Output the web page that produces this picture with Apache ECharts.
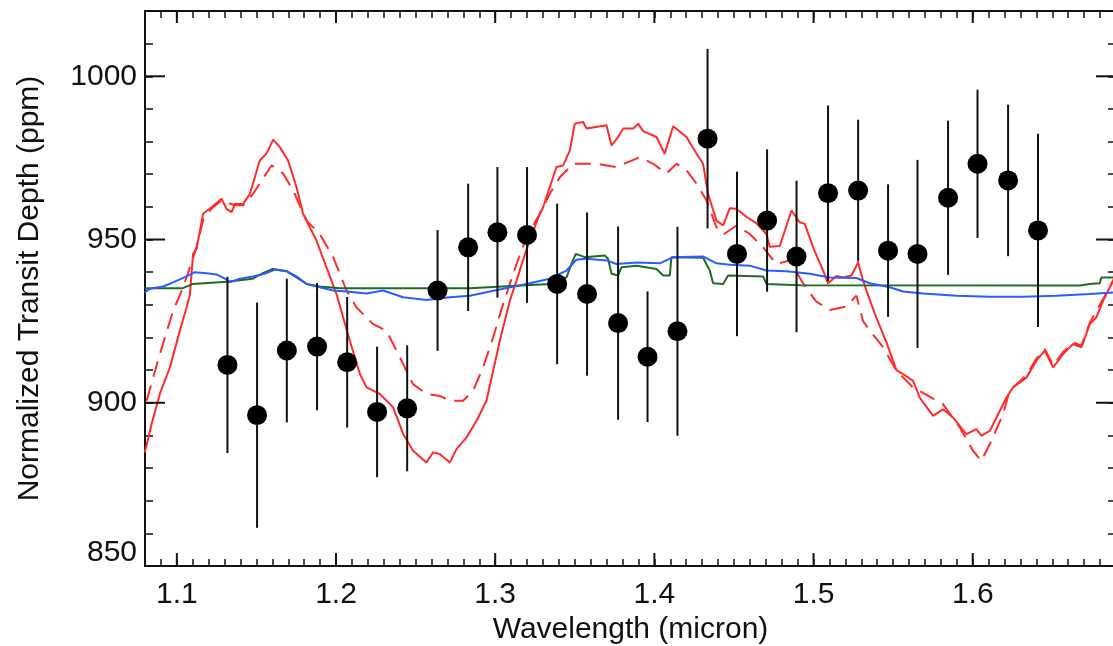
<!DOCTYPE html>
<html>
<head>
<meta charset="utf-8">
<script src="https://cdn.jsdelivr.net/npm/echarts@6/dist/echarts.min.js"></script>
<style>
html,body{margin:0;padding:0;background:#fff;}
#chart{width:1113px;height:646px;}
</style>
</head>
<body>
<div id="chart"></div>
<script>
// ---------- data ----------
var xMajorTicks = [1.1, 1.2, 1.3, 1.4, 1.5, 1.6];
var yMajorTicks = [850, 900, 950, 1000];

var obsWave = [1.1318,1.1504,1.1691,1.1881,1.2070,1.2258,1.2447,1.2638,1.2830,1.3014,1.3200,1.3389,1.3577,1.3772,1.3957,1.4145,1.4334,1.4519,1.4708,1.4893,1.5091,1.5280,1.5468,1.5653,1.5845,1.6030,1.6222,1.6410];
var obsDepth = [911.6,896.2,916.0,917.2,912.4,897.2,898.3,934.4,947.6,952.2,951.4,936.4,933.3,924.4,914.1,921.9,980.9,945.6,955.8,944.8,964.2,965.0,946.6,945.6,962.8,973.2,968.1,952.8];
var obsErr = [27.0,34.5,22.0,19.5,20.0,20.0,19.3,18.5,19.5,20.0,20.8,24.6,25.0,29.6,20.0,32.0,27.5,25.2,21.8,23.2,26.9,21.7,20.3,28.8,23.6,22.7,23.2,29.6];

var redSolid = [[1.0799,884.8],[1.0841,893.4],[1.0893,902.7],[1.0956,910.8],[1.1019,922.1],[1.1061,929.2],[1.1082,933.0],[1.1102,945.6],[1.1124,947.2],[1.1165,957.9],[1.1218,959.9],[1.1281,962.5],[1.1312,959.4],[1.1344,958.4],[1.1364,960.9],[1.1416,960.9],[1.1459,964.0],[1.1521,974.2],[1.1563,976.3],[1.1605,980.6],[1.1647,978.3],[1.1699,974.2],[1.1752,966.0],[1.1793,957.9],[1.1877,949.7],[1.1940,941.5],[1.2003,933.3],[1.2087,919.0],[1.2150,908.8],[1.2192,904.7],[1.2275,902.7],[1.2359,898.6],[1.2422,890.4],[1.2484,885.3],[1.2568,881.7],[1.2610,884.8],[1.2652,884.3],[1.2715,881.7],[1.2757,885.8],[1.2820,889.4],[1.2883,894.5],[1.2945,900.6],[1.2987,909.8],[1.3029,919.0],[1.3092,931.3],[1.3134,937.4],[1.3197,947.0],[1.3280,957.9],[1.3301,959.9],[1.3385,972.2],[1.3427,972.7],[1.3469,977.3],[1.3500,985.5],[1.3552,986.0],[1.3574,984.0],[1.3699,985.0],[1.3731,978.8],[1.3772,981.4],[1.3804,984.0],[1.3867,984.0],[1.3898,985.5],[1.3929,983.2],[1.4013,981.4],[1.4065,976.3],[1.4118,984.7],[1.4202,981.4],[1.4265,976.3],[1.4306,973.2],[1.4337,964.0],[1.4390,955.8],[1.4432,954.3],[1.4474,959.6],[1.4516,959.4],[1.4579,956.9],[1.4641,955.0],[1.4704,951.7],[1.4725,947.8],[1.4788,948.0],[1.4861,958.9],[1.4913,955.3],[1.4945,954.8],[1.4997,947.6],[1.5060,940.5],[1.5091,936.6],[1.5144,938.8],[1.5185,938.4],[1.5238,939.0],[1.5280,943.0],[1.5311,937.4],[1.5353,931.5],[1.5395,926.0],[1.5458,918.5],[1.5521,910.0],[1.5562,908.8],[1.5625,906.7],[1.5667,901.6],[1.5751,896.0],[1.5813,898.0],[1.5876,895.5],[1.5918,892.9],[1.5960,890.4],[1.6023,891.9],[1.6054,889.9],[1.6107,891.4],[1.6149,895.5],[1.6212,901.6],[1.6253,904.7],[1.6337,907.7],[1.6400,912.9],[1.6452,916.0],[1.6505,910.8],[1.6567,914.9],[1.6630,918.0],[1.6683,917.0],[1.6735,924.1],[1.6777,926.2],[1.6819,931.3],[1.6861,935.4],[1.6900,939.0]];

var redDashed = [[1.0810,900.6],[1.0893,914.9],[1.0977,928.2],[1.1040,935.4],[1.1082,941.5],[1.1124,947.6],[1.1165,956.0],[1.1218,959.5],[1.1281,962.0],[1.1364,960.5],[1.1416,960.5],[1.1479,964.0],[1.1595,972.7],[1.1668,970.2],[1.1731,965.0],[1.1815,955.8],[1.1898,951.7],[1.1982,944.6],[1.2066,934.4],[1.2129,929.2],[1.2233,924.1],[1.2317,922.1],[1.2401,913.9],[1.2484,905.7],[1.2568,902.7],[1.2652,902.1],[1.2715,900.6],[1.2798,900.6],[1.2861,903.7],[1.2924,910.8],[1.2987,920.0],[1.3050,930.3],[1.3092,936.4],[1.3134,942.5],[1.3197,950.7],[1.3280,957.9],[1.3343,964.0],[1.3406,969.1],[1.3490,973.2],[1.3637,973.2],[1.3762,972.2],[1.3908,975.2],[1.3992,973.2],[1.4076,970.2],[1.4139,973.2],[1.4202,971.2],[1.4265,967.1],[1.4327,962.0],[1.4390,953.8],[1.4432,951.5],[1.4516,954.3],[1.4599,951.7],[1.4683,947.6],[1.4767,942.5],[1.4851,943.6],[1.4934,936.6],[1.4997,932.3],[1.5018,931.0],[1.5102,928.4],[1.5206,929.5],[1.5269,932.8],[1.5311,925.0],[1.5353,922.1],[1.5437,917.0],[1.5521,909.8],[1.5625,904.7],[1.5813,899.6],[1.5918,892.5],[1.6002,885.3],[1.6054,882.2],[1.6117,888.3],[1.6190,896.5],[1.6232,903.7],[1.6337,908.5],[1.6400,913.5],[1.6452,916.5],[1.6505,911.5],[1.6567,915.5],[1.6630,918.5],[1.6683,917.5],[1.6735,924.5],[1.6819,931.8],[1.6900,939.0]];

var blueModel = [[1.0799,933.8],[1.0830,934.9],[1.0914,935.6],[1.0977,936.9],[1.1061,938.7],[1.1113,940.0],[1.1187,939.7],[1.1249,939.3],[1.1302,938.0],[1.1333,936.9],[1.1396,938.0],[1.1479,938.7],[1.1563,939.7],[1.1616,940.8],[1.1689,940.3],[1.1752,938.7],[1.1815,936.4],[1.1898,935.4],[1.1982,934.4],[1.2066,934.1],[1.2192,933.5],[1.2296,934.4],[1.2421,932.3],[1.2568,931.5],[1.2715,932.3],[1.2840,932.8],[1.3050,934.9],[1.3217,936.6],[1.3343,938.0],[1.3448,940.5],[1.3510,943.8],[1.3574,944.1],[1.3699,943.6],[1.3762,942.5],[1.3888,943.0],[1.4034,942.7],[1.4118,944.6],[1.4306,944.8],[1.4390,942.7],[1.4474,942.3],[1.4599,942.0],[1.4704,940.5],[1.4830,940.3],[1.4976,939.5],[1.5101,938.4],[1.5269,938.2],[1.5353,936.6],[1.5479,935.4],[1.5562,934.1],[1.5688,933.5],[1.5898,932.8],[1.6108,932.5],[1.6316,932.5],[1.6526,932.8],[1.6735,933.3],[1.6900,933.8]];

var greenModel = [[1.0799,935.1],[1.1038,935.1],[1.1101,936.4],[1.1312,937.1],[1.1477,938.0],[1.1540,939.7],[1.1603,941.0],[1.1689,940.3],[1.1752,938.4],[1.1815,936.4],[1.1898,935.6],[1.2024,935.1],[1.2840,935.1],[1.3343,936.4],[1.3448,938.4],[1.3479,942.5],[1.3506,945.6],[1.3563,944.6],[1.3688,945.1],[1.3709,944.1],[1.3731,939.5],[1.3772,939.0],[1.3793,941.5],[1.3888,942.0],[1.4013,941.0],[1.4055,939.0],[1.4097,939.0],[1.4107,944.6],[1.4306,944.4],[1.4348,940.5],[1.4369,936.6],[1.4432,936.4],[1.4463,939.0],[1.4683,938.7],[1.4704,936.4],[1.4913,936.0],[1.6672,935.9],[1.6735,936.4],[1.6798,936.6],[1.6808,938.4],[1.6900,938.4]];

// ---------- chart ----------
var X_MIN = 1.08, X_MAX = 1.69, Y_MIN = 850, Y_MAX = 1020;
var INK = '#111111';
var FONT = 'Liberation Sans';

function near(v, step) { return Math.abs(v / step - Math.round(v / step)) < 1e-6; }

var chart = echarts.init(document.getElementById('chart'), null, {renderer: 'canvas'});

var baseTick = {show: true, inside: true, length: 7, lineStyle: {color: INK, width: 1.5}};
var baseLine = {show: true, onZero: false, lineStyle: {color: INK, width: 2}};

var obsData = obsWave.map(function (w, i) { return [w, obsDepth[i], obsErr[i]]; });

chart.setOption({
  animation: false,
  backgroundColor: '#ffffff',
  grid: {left: 145, top: 11, right: -3, bottom: 80, containLabel: false, outerBoundsMode: 'none'},
  xAxis: [{
    type: 'value', min: X_MIN, max: X_MAX, interval: 0.01, position: 'bottom',
    axisLine: baseLine, axisTick: baseTick, splitLine: {show: false},
    axisLabel: {
      show: true, margin: 14, color: INK, fontFamily: FONT, fontSize: 30,
      showMinLabel: true, showMaxLabel: true, hideOverlap: false,
      formatter: function (v) { return near(v, 0.1) ? v.toFixed(1) : ''; }
    },
    name: 'Wavelength (micron)', nameLocation: 'middle', nameGap: 46,
    nameTextStyle: {color: INK, fontFamily: FONT, fontSize: 30}
  }, {
    type: 'value', min: X_MIN, max: X_MAX, interval: 0.01, position: 'top',
    axisLine: baseLine, axisTick: baseTick, splitLine: {show: false}, axisLabel: {show: false}
  }],
  yAxis: [{
    type: 'value', min: Y_MIN, max: Y_MAX, interval: 10, position: 'left',
    axisLine: baseLine, axisTick: {show: true, inside: true, length: 8, lineStyle: {color: INK, width: 1.5}},
    splitLine: {show: false},
    axisLabel: {
      show: true, margin: 8, color: INK, fontFamily: FONT, fontSize: 30,
      formatter: function (v) {
        if (!near(v, 50)) { return ''; }
        var s = String(Math.round(v));
        return (Math.abs(v - Y_MIN) < 1e-6) ? '{up|' + s + '}' : s;
      },
      rich: {up: {color: INK, fontFamily: FONT, fontSize: 30, padding: [0, 0, 26, 0]}}
    },
    name: 'Normalized Transit Depth (ppm)', nameLocation: 'middle', nameGap: 100,
    nameTextStyle: {color: INK, fontFamily: FONT, fontSize: 30}
  }, {
    type: 'value', min: Y_MIN, max: Y_MAX, interval: 10, position: 'right',
    axisLine: baseLine, axisTick: {show: true, inside: true, length: 8, lineStyle: {color: INK, width: 1.5}},
    splitLine: {show: false}, axisLabel: {show: false}
  }],
  series: [
    {
      type: 'line', data: redSolid, showSymbol: false, symbol: 'none', clip: true,
      lineStyle: {color: '#ff2a2a', width: 2}, z: 2
    },
    {
      type: 'line', data: redDashed, showSymbol: false, symbol: 'none', clip: true,
      lineStyle: {color: '#ff2a2a', width: 2, type: [16, 9]}, z: 2
    },
    {
      type: 'line', data: greenModel, showSymbol: false, symbol: 'none', clip: true,
      lineStyle: {color: '#216b21', width: 2}, z: 3
    },
    {
      type: 'line', data: blueModel, showSymbol: false, symbol: 'none', clip: true,
      lineStyle: {color: '#2a5cff', width: 2}, z: 3
    },
    {
      // error bars
      type: 'custom', data: obsData, z: 4, silent: true,
      renderItem: function (params, api) {
        var x = api.value(0), y = api.value(1), e = api.value(2);
        var lo = api.coord([x, y - e]), hi = api.coord([x, y + e]);
        return {type: 'line', shape: {x1: lo[0], y1: lo[1], x2: hi[0], y2: hi[1]},
          style: {stroke: INK, lineWidth: 2}};
      }
    },
    {
      type: 'scatter', data: obsData, symbol: 'circle', symbolSize: 20, z: 5,
      itemStyle: {color: '#000000', opacity: 1}
    },
    {
      // major ticks on x (bottom and top)
      type: 'custom', data: xMajorTicks.map(function (v) { return [v, Y_MIN]; }), z: 6, silent: true, clip: false,
      renderItem: function (params, api) {
        var v = api.value(0);
        var b = api.coord([v, Y_MIN]), t = api.coord([v, Y_MAX]);
        return {type: 'group', children: [
          {type: 'line', shape: {x1: b[0], y1: b[1], x2: b[0], y2: b[1] - 13}, style: {stroke: INK, lineWidth: 2}},
          {type: 'line', shape: {x1: t[0], y1: t[1], x2: t[0], y2: t[1] + 12}, style: {stroke: INK, lineWidth: 2}}
        ]};
      }
    },
    {
      // major ticks on y (left and right)
      type: 'custom', data: yMajorTicks.map(function (v) { return [X_MIN, v]; }), z: 6, silent: true, clip: false,
      renderItem: function (params, api) {
        var v = api.value(1);
        var l = api.coord([X_MIN, v]), r = api.coord([X_MAX, v]);
        return {type: 'group', children: [
          {type: 'line', shape: {x1: l[0], y1: l[1], x2: l[0] + 20, y2: l[1]}, style: {stroke: INK, lineWidth: 2}},
          {type: 'line', shape: {x1: r[0], y1: r[1], x2: r[0] - 20, y2: r[1]}, style: {stroke: INK, lineWidth: 2}}
        ]};
      }
    }
  ]
});
</script>
</body>
</html>
